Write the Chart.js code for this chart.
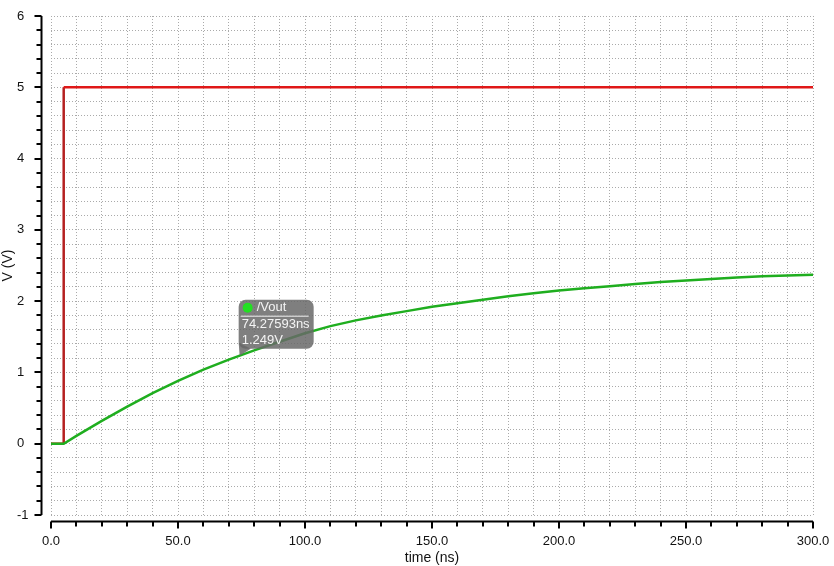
<!DOCTYPE html>
<html>
<head>
<meta charset="utf-8">
<script src="https://cdn.jsdelivr.net/npm/chart.js@4/dist/chart.umd.min.js"></script>
<style>
  html, body { margin: 0; padding: 0; background: #fff; }
  #wrap { width: 834px; height: 566px; }
</style>
</head>
<body>
<div id="wrap"><canvas id="grafico"></canvas></div>
<script>
// Dados
const tempoVout = [0, 5, 10, 20, 30, 40, 50, 60, 70, 80, 90, 100, 110, 120, 130, 140, 150,
  160, 170, 180, 190, 200, 210, 220, 230, 240, 250, 260, 270, 280, 290, 300];
const vout = [0, 0, 0.11, 0.32, 0.52, 0.71, 0.88, 1.04, 1.18, 1.31, 1.43, 1.55, 1.65, 1.73, 1.80, 1.86, 1.92,
  1.97, 2.02, 2.07, 2.11, 2.15, 2.18, 2.21, 2.24, 2.27, 2.29, 2.31, 2.33, 2.35, 2.36, 2.37];
const tempoVin = [0, 5, 5, 300];
const vin = [0, 0, 5, 5];

// Cursor marcado no gráfico
const cursorNome = "/Vout";
const cursorTempo = 74.27593;
const cursorV = 1.249;

const xMin = 0, xMax = 300, xPasso = 10, xRotulo = 50;
const yMin = -1, yMax = 6, yPasso = 0.2;

const fonte = "'Liberation Sans', Arial, sans-serif";

// 🔹 Eixos deslocados com marcas maiores e menores
const eixosPlugin = {
  id: "eixos",
  afterDraw(chart) {
    const { ctx, chartArea: a, scales: { x, y } } = chart;
    ctx.save();
    ctx.strokeStyle = "#000";
    ctx.lineWidth = 2;
    const ex = a.left - 9.5;
    const ey = a.bottom + 6.5;
    ctx.beginPath();
    ctx.moveTo(ex, a.top); ctx.lineTo(ex, a.bottom);
    ctx.moveTo(a.left, ey); ctx.lineTo(a.right, ey);
    y.ticks.forEach(t => {
      const p = Math.round(y.getPixelForValue(t.value));
      const maior = Math.abs(t.value - Math.round(t.value)) < 1e-6;
      ctx.moveTo(ex, p); ctx.lineTo(ex - (maior ? 7 : 5), p);
    });
    x.ticks.forEach(t => {
      const p = Math.round(x.getPixelForValue(t.value));
      const maior = t.value % xRotulo === 0;
      ctx.moveTo(p, ey); ctx.lineTo(p, ey + (maior ? 7 : 5));
    });
    ctx.stroke();

    // título do eixo y
    ctx.fillStyle = "#111";
    ctx.font = "14px " + fonte;
    ctx.textAlign = "center";
    ctx.textBaseline = "middle";
    ctx.translate(8, (a.top + a.bottom) / 2);
    ctx.rotate(-Math.PI / 2);
    ctx.fillText("V (V)", 0, 0);
    ctx.restore();
  }
};

// 🔹 Caixa do cursor
const cursorPlugin = {
  id: "cursor",
  afterDatasetsDraw(chart) {
    const { ctx, scales: { x, y } } = chart;
    const px = x.getPixelForValue(cursorTempo);
    const py = y.getPixelForValue(cursorV);
    const left = px - 1, top = py - 55, w = 75, h = 49;
    ctx.save();
    ctx.fillStyle = "rgba(105,105,105,0.85)";
    ctx.beginPath();
    ctx.roundRect(left, top, w, h, 7);
    ctx.fill();
    ctx.beginPath();
    ctx.moveTo(left, top + h - 6);
    ctx.lineTo(left + 12, top + h);
    ctx.lineTo(px, py + 1);
    ctx.closePath();
    ctx.fill();

    ctx.fillStyle = "#22e022";
    ctx.beginPath();
    ctx.arc(px + 8, py - 47, 5, 0, Math.PI * 2);
    ctx.fill();

    ctx.fillStyle = "#f4f4f4";
    ctx.font = "13px " + fonte;
    ctx.textBaseline = "middle";
    ctx.textAlign = "left";
    ctx.fillText(cursorNome, px + 17, py - 47);
    ctx.fillText(cursorTempo.toFixed(5) + "ns", px + 2, py - 30);
    ctx.fillText(cursorV.toFixed(3) + "V", px + 2, py - 14);
    ctx.strokeStyle = "#f4f4f4";
    ctx.lineWidth = 1;
    ctx.beginPath();
    ctx.moveTo(px + 1, py - 38.5); ctx.lineTo(px + 69, py - 38.5);
    ctx.stroke();
    ctx.restore();
  }
};

const grade = {
  color: "#aaaaaa",
  lineWidth: 1,
  drawTicks: false
};

new Chart(document.getElementById("grafico"), {
  type: "line",
  data: {
    datasets: [
      {
        label: "/Vout",
        data: tempoVout.map((t, i) => ({ x: t, y: vout[i] })),
        borderColor: "#1fae1f",
        borderWidth: 2.5,
        pointRadius: 0,
        tension: 0
      },
      {
        label: "/Vin",
        data: tempoVin.map((t, i) => ({ x: t, y: vin[i] })),
        borderColor: "#e01818",
        borderWidth: 2.5,
        pointRadius: 0,
        tension: 0,
        segment: {
          borderColor: c => c.p0.parsed.x === c.p1.parsed.x ? "#b52020" : "#e01818"
        }
      }
    ]
  },
  options: {
    responsive: true,
    maintainAspectRatio: false,
    animation: false,
    layout: { padding: { left: 17, top: 16, right: 21, bottom: 0 } },
    plugins: {
      legend: { display: false },
      tooltip: { enabled: false }
    },
    scales: {
      x: {
        type: "linear",
        min: xMin,
        max: xMax,
        border: { display: false, dash: [1, 2] },
        grid: grade,
        ticks: {
          stepSize: xPasso,
          autoSkip: false,
          maxRotation: 0,
          padding: 19,
          color: "#111",
          font: { family: fonte, size: 13 },
          callback: v => v % xRotulo === 0 ? v.toFixed(1) : ""
        },
        title: {
          display: true,
          text: "time (ns)",
          color: "#111",
          font: { family: fonte, size: 14 },
          padding: { top: 0, bottom: -1 }
        },
        afterFit: s => { s.height = 51; s.paddingLeft = 0; s.paddingRight = 0; }
      },
      y: {
        type: "linear",
        min: yMin,
        max: yMax,
        border: { display: false, dash: [1, 2] },
        grid: grade,
        ticks: {
          stepSize: yPasso,
          autoSkip: false,
          crossAlign: "far",
          color: "#111",
          font: { family: fonte, size: 13 },
          callback: v => Math.abs(v - Math.round(v)) < 1e-6 ? String(Math.round(v)) : ""
        },
        afterFit: s => { s.width = 34; }
      }
    }
  },
  plugins: [eixosPlugin, cursorPlugin]
});
</script>
</body>
</html>
